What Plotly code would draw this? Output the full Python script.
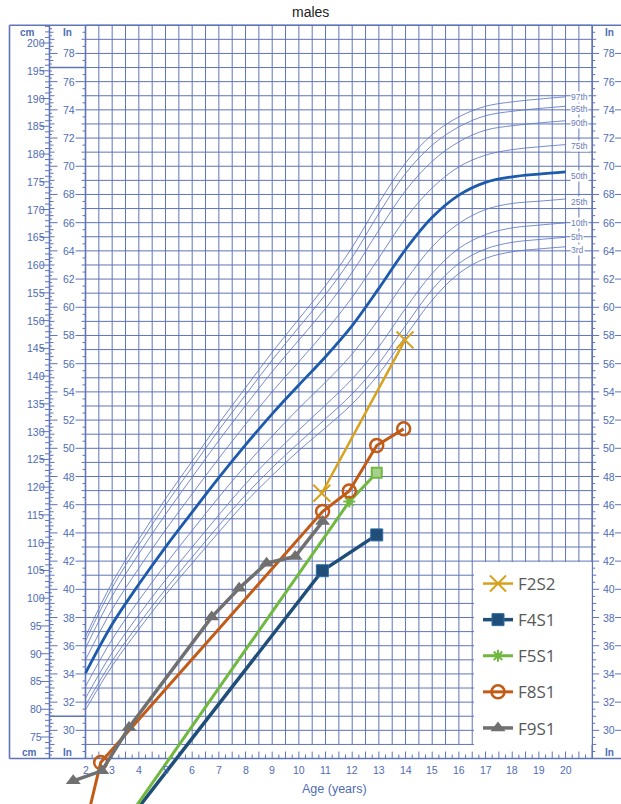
import numpy as np
import plotly.graph_objects as go

W, H = 621, 804

# ---------------- data ----------------
ages_pct = list(range(2, 21))
p3 = [79.9, 87.8, 94.4, 100.6, 106.3, 111.9, 117.3, 122.1, 126.6, 130.7, 135.0, 140.4, 147.2, 153.7, 158.5, 161.2, 162.4, 162.9, 163.3]
p5 = [80.7, 88.7, 95.4, 101.6, 107.4, 113.1, 118.6, 123.5, 128.0, 132.3, 136.8, 142.3, 149.1, 155.6, 160.3, 162.9, 164.1, 164.6, 165.0]
p10 = [82.0, 90.2, 97.0, 103.3, 109.2, 115.0, 120.6, 125.6, 130.3, 134.8, 139.5, 145.3, 152.2, 158.5, 163.0, 165.5, 166.7, 167.2, 167.6]
p25 = [84.1, 92.6, 99.6, 106.1, 112.2, 118.2, 123.9, 129.2, 134.2, 138.9, 144.0, 150.3, 157.2, 163.3, 167.5, 170.0, 171.1, 171.5, 171.9]
p50 = [86.5, 95.3, 102.5, 109.2, 115.5, 121.7, 127.6, 133.2, 138.4, 143.5, 149.1, 155.8, 162.8, 168.6, 172.6, 174.9, 175.9, 176.4, 176.8]
p75 = [88.9, 98.0, 105.4, 112.3, 118.8, 125.2, 131.3, 137.2, 142.6, 148.1, 154.2, 161.3, 168.4, 173.9, 177.7, 179.8, 180.8, 181.3, 181.7]
p90 = [91.0, 100.4, 108.0, 115.1, 121.8, 128.4, 134.7, 140.8, 146.5, 152.2, 158.7, 166.3, 173.4, 178.7, 182.2, 184.3, 185.1, 185.6, 186.0]
p95 = [92.3, 101.9, 109.6, 116.8, 123.6, 130.3, 136.6, 142.9, 148.8, 154.7, 161.4, 169.3, 176.5, 181.6, 184.9, 186.9, 187.7, 188.2, 188.6]
p97 = [93.1, 102.8, 110.6, 117.9, 124.7, 131.5, 137.9, 144.3, 150.3, 156.3, 163.2, 171.2, 178.4, 183.5, 186.7, 188.6, 189.4, 189.9, 190.3]
pct_curves = [p3, p5, p10, p25, p75, p90, p95, p97]

pct_labels = ["3rd", "5th", "10th", "25th", "50th", "75th", "90th", "95th", "97th"]
pct_label_cm = [162.8, 165.1, 167.6, 171.4, 176.1, 181.5, 185.6, 188.1, 190.2]

f2s2_age = [10.86, 13.98]
f2s2_cm = [118.9, 146.5]
f4s1_age = [2.0, 10.88, 12.92]
f4s1_cm = [50.0, 104.95, 111.4]
f5s1_age = [2.0, 11.89, 12.92]
f5s1_cm = [49.5, 117.4, 122.6]
f8s1_age = [1.55, 2.57, 10.89, 11.89, 12.92, 13.93]
f8s1_cm = [50.0, 70.4, 115.6, 119.3, 127.5, 130.5]
f9s1_age = [1.54, 2.61, 3.63, 6.73, 7.76, 8.79, 9.86, 10.89]
f9s1_cm = [67.1, 68.9, 76.7, 96.6, 101.8, 106.3, 107.5, 113.8]

cm_ticks = list(range(75, 201, 5))
in_ticks = list(range(30, 79, 2))
age_ticks = list(range(2, 21))

# ---------------- layout geometry ----------------
AGE2_PX, PX_PER_YR = 85.5, 26.67
CM75_PY, PX_PER_CM = 737.0, 5.552
IN = 2.54


def ax(px):
    return 2 + (px - AGE2_PX) / PX_PER_YR


def ay(py):
    return 75 + (CM75_PY - py) / PX_PER_CM


def pxx(age):
    return AGE2_PX + (age - 2) * PX_PER_YR


GRID_BLUE = '#6074b8'
TEXT_BLUE = '#4f6db5'
FONT = 'Liberation Sans'

X_FRAME_L = 9.5
X_CM_R = 49.5
X_GRID_L = pxx(2)
X_GRID_R = pxx(21)
TOP_IN, BOT_IN = 80, 28

fig = go.Figure()

# grid
gx, gy = [], []
for a in np.arange(2, 21.001, 0.5):
    gx += [a, a, None]
    gy += [29 * IN, TOP_IN * IN, None]
for i in range(29, TOP_IN + 1):
    gx += [2, 21, None]
    gy += [i * IN, i * IN, None]
fig.add_trace(go.Scatter(x=gx, y=gy, mode='lines', line=dict(color=GRID_BLUE, width=1),
                         hoverinfo='skip', showlegend=False))

# frame
fx, fy = [], []


def seg(lx, ly, x0, y0, x1, y1):
    lx += [x0, x1, None]
    ly += [y0, y1, None]


seg(fx, fy, ax(X_FRAME_L), TOP_IN * IN, ax(W + 5), TOP_IN * IN)
seg(fx, fy, ax(X_FRAME_L), BOT_IN * IN, ax(W + 5), BOT_IN * IN)
for xp in [X_FRAME_L, X_CM_R, X_GRID_L, X_GRID_R]:
    seg(fx, fy, ax(xp), BOT_IN * IN, ax(xp), TOP_IN * IN)
for i in [77, 31]:
    seg(fx, fy, ax(X_CM_R), i * IN, ax(X_GRID_L), i * IN)
fig.add_trace(go.Scatter(x=fx, y=fy, mode='lines', line=dict(color=GRID_BLUE, width=1.6),
                         hoverinfo='skip', showlegend=False))

# tick marks
tx, ty = [], []
for c in range(72, 204):
    L = 9 if c % 5 == 0 else 4.5
    seg(tx, ty, ax(X_CM_R - L), c, ax(X_CM_R), c)
for q in np.arange(28.25, 80, 0.25):
    if abs(q - round(q)) < 1e-6:
        Ll = 8 if int(round(q)) % 2 == 0 else 5
        Lr = 10 if int(round(q)) % 2 == 0 else 4
        Lg = 7 if int(round(q)) % 2 == 0 else 4
    elif abs(q * 2 - round(q * 2)) < 1e-6:
        Ll, Lr, Lg = 4, 3, 3
    else:
        Ll, Lr, Lg = 2.5, 0, 0
    seg(tx, ty, ax(X_CM_R), q * IN, ax(X_CM_R + Ll), q * IN)
    if Lr:
        seg(tx, ty, ax(X_GRID_L - Lr), q * IN, ax(X_GRID_L), q * IN)
    if Lg:
        seg(tx, ty, ax(X_GRID_R), q * IN, ax(X_GRID_R + Lg), q * IN)
for i in in_ticks:
    seg(tx, ty, ax(615), i * IN, ax(W + 2), i * IN)
for t in np.arange(2.25, 21, 0.25):
    L = 7 if abs(t * 2 - round(t * 2)) < 1e-6 else 4
    y0 = BOT_IN * IN
    seg(tx, ty, t, y0, t, y0 + L / PX_PER_CM)
fig.add_trace(go.Scatter(x=tx, y=ty, mode='lines', line=dict(color=GRID_BLUE, width=1),
                         hoverinfo='skip', showlegend=False))

# percentile curves
for curve in pct_curves:
    fig.add_trace(go.Scatter(x=ages_pct, y=curve, mode='lines',
                             line=dict(color='rgba(95,120,195,0.85)', width=1, shape='spline', smoothing=1),
                             hoverinfo='skip', showlegend=False))
fig.add_trace(go.Scatter(x=ages_pct, y=p50, mode='lines',
                         line=dict(color='#1d5aab', width=2.8, shape='spline', smoothing=1),
                         hoverinfo='skip', showlegend=False))

# data series
fig.add_trace(go.Scatter(x=f2s2_age, y=f2s2_cm, name='F2S2', mode='lines+markers', legendgroup='a',
                         line=dict(color='#D6A21C', width=2.5, shape='linear'),
                         marker=dict(symbol='x-thin', size=17, color='#D6A21C',
                                     line=dict(color='#D6A21C', width=2))))
fig.add_trace(go.Scatter(x=f4s1_age, y=f4s1_cm, name='F4S1', mode='lines+markers', legendgroup='b',
                         line=dict(color='#1F4E79', width=3.5, shape='linear'),
                         marker=dict(symbol='square', size=12, color='#1F4E79',
                                     line=dict(color='#2E6DA4', width=1))))
fig.add_trace(go.Scatter(x=f5s1_age, y=f5s1_cm, name='F5S1', mode='lines+markers', legendgroup='c',
                         line=dict(color='#70B83F', width=3, shape='linear'),
                         marker=dict(symbol=['asterisk-open', 'asterisk-open', 'square'], size=10,
                                     color=['#70B83F', '#70B83F', '#A8D08D'],
                                     line=dict(color='#70B83F', width=2))))
fig.add_trace(go.Scatter(x=f8s1_age, y=f8s1_cm, name='F8S1', mode='lines+markers', legendgroup='d',
                         line=dict(color='#C25B16', width=3, shape='linear'),
                         marker=dict(symbol='circle-open', size=13, color='#C25B16',
                                     line=dict(color='#C25B16', width=2.5))))
fig.add_trace(go.Scatter(x=f9s1_age, y=f9s1_cm, name='F9S1', mode='lines+markers', legendgroup='e',
                         line=dict(color='#707070', width=3.5, shape='linear'),
                         marker=dict(symbol='triangle-up', size=13, color='#707070')))

ann = []


def label(xpx, ycm, text, size=10.5, color=TEXT_BLUE, xanchor='center', bold=False, bg=None):
    d = dict(x=ax(xpx), y=ycm, xref='x', yref='y', text=('<b>%s</b>' % text if bold else text),
             showarrow=False, xanchor=xanchor, yanchor='middle',
             font=dict(family=FONT, size=size, color=color))
    if bg:
        d.update(bgcolor=bg, borderpad=0)
    ann.append(d)


for c in cm_ticks:
    label(35.5, c, str(c))
for i in in_ticks:
    label(68.5, i * IN, str(i))
    label(608.5, i * IN, str(i))
for a in age_ticks:
    label(pxx(a), ay(770), str(a))
for (xp, yp, t) in [(27, 32, 'cm'), (67.5, 32, 'In'), (609, 32, 'In'),
                    (29, 752.7, 'cm'), (67, 752.7, 'In'), (609, 752.7, 'In')]:
    label(xp, ay(yp), t, size=10, bold=True)
label(334, ay(789), 'Age (years)', size=12.5)
for t, c in zip(pct_labels, pct_label_cm):
    label(570, c, t, size=8.5, color='#6a7db8', xanchor='left', bg='white')
ann.append(dict(x=310 / W, y=1 - 12 / H, xref='paper', yref='paper', text='males', showarrow=False,
                xanchor='center', yanchor='middle', font=dict(family=FONT, size=14, color='#222222')))

shapes = [dict(type='rect', xref='paper', yref='paper', x0=474 / W, x1=X_GRID_R / W - 0.0008,
               y0=1 - 745 / H, y1=1 - 562 / H, fillcolor='white', line=dict(width=0), layer='above')]

fig.update_layout(
    width=W, height=H, margin=dict(l=0, r=0, t=0, b=0),
    paper_bgcolor='white', plot_bgcolor='white',
    xaxis=dict(range=[ax(0), ax(W)], visible=False, fixedrange=True),
    yaxis=dict(range=[ay(H), ay(0)], visible=False, fixedrange=True),
    annotations=ann, shapes=shapes, hovermode=False,
    legend=dict(x=478 / W, y=1 - 566 / H, xanchor='left', yanchor='top', bgcolor='rgba(0,0,0,0)',
                font=dict(family='Open Sans', size=17, color='#595959'), tracegroupgap=11,
                itemwidth=30),
    showlegend=True,
)

fig.write_html("out.html", config={'displayModeBar': False, 'staticPlot': True},
               post_script="document.body.style.margin='0px';document.body.style.overflow='hidden';")
